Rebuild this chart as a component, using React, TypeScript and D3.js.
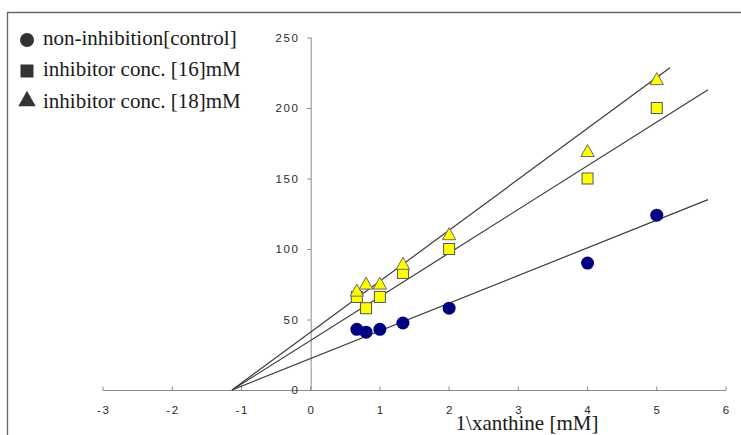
import React from "react";
import * as d3 from "d3";

const xValues = [0.667, 0.8, 1, 1.333, 2, 4, 5];
const controlValues = [43, 41, 43, 47.5, 58, 90, 124];
const inh16Values = [66, 58, 66, 83, 100, 150, 200];
const inh18Values = [70, 75, 75, 89, 110, 169, 220];

// fitted lines: x-intercept, x end, y at end
const lineNames = ["control", "inh16", "inh18"];
const lineXStart = [-1.136, -1.136, -1.136];
const lineXEnd = [5.74, 5.74, 5.19];
const lineYEnd = [135, 213, 228.6];

const xTicks = [-3, -2, -1, 0, 1, 2, 3, 4, 5, 6];
const yTicks = [0, 50, 100, 150, 200, 250];

const legendLabels = [
  "non-inhibition[control]",
  "inhibitor conc. [16]mM",
  "inhibitor conc. [18]mM",
];
const xTitle = "1\\xanthine [mM]";

const SERIF = "Liberation Serif";
const SANS = "Liberation Sans";

export default function App() {
  const W = 741, H = 435;
  const x = d3.scaleLinear().domain([-3, 6]).range([103, 726]);
  const y = d3.scaleLinear().domain([0, 250]).range([390, 37.5]);
  const axisColor = "#8a8a8a";
  const tickText = "#2a2a2a";
  const ls = 1.6;
  const line = d3.line<[number, number]>().x(d => x(d[0])).y(d => y(d[1]));
  const tri = (cx: number, cy: number, s: number) =>
    `M${cx},${cy - s * 0.62}L${cx + s * 0.58},${cy + s * 0.42}L${cx - s * 0.58},${cy + s * 0.42}Z`;

  return (
    <svg width={W} height={H} style={{ position: "absolute", left: 0, top: 0, background: "#fff" }}>
      <rect x={0} y={0} width={W} height={H} fill="#fff" />
      <line x1={7} y1={12.5} x2={W} y2={12.5} stroke="#666" strokeWidth={1.3} />
      <line x1={7.5} y1={12} x2={7.5} y2={H} stroke="#666" strokeWidth={1.3} />

      <line x1={x(-3)} y1={390.5} x2={x(6)} y2={390.5} stroke={axisColor} strokeWidth={1} />
      {xTicks.map(t => (
        <g key={"xt" + t}>
          <line x1={x(t)} x2={x(t)} y1={390.5} y2={386.5} stroke={axisColor} />
          <text x={x(t) + ls / 2} y={414} textAnchor="middle" fontFamily={SANS} fontSize={11.5} letterSpacing={ls} fill={tickText}>{t}</text>
        </g>
      ))}
      <line x1={x(0) + 0.5} y1={y(250)} x2={x(0) + 0.5} y2={390.5} stroke={axisColor} strokeWidth={1} />
      {yTicks.map(t => (
        <g key={"yt" + t}>
          <line x1={x(0) + 0.5} x2={x(0) - 3.5} y1={y(t) + 0.5} y2={y(t) + 0.5} stroke={axisColor} />
          <text x={298 + ls} y={y(t) + 4} textAnchor="end" fontFamily={SANS} fontSize={11.5} letterSpacing={ls} fill={tickText}>{t}</text>
        </g>
      ))}

      {lineNames.map((n, i) => (
        <path key={n} d={line([[lineXStart[i], 0], [lineXEnd[i], lineYEnd[i]]]) || ""} stroke="#3a3a3a" strokeWidth={1.2} fill="none" />
      ))}

      {xValues.map((xv, i) => (
        <circle key={"c" + i} cx={x(xv)} cy={y(controlValues[i])} r={6.5} fill="#000080" />
      ))}
      {xValues.map((xv, i) => (
        <rect key={"s" + i} x={x(xv) - 5.5} y={y(inh16Values[i]) - 5.5} width={11} height={11} fill="#ffff00" stroke="#555" strokeWidth={1} />
      ))}
      {xValues.map((xv, i) => (
        <path key={"t" + i} d={tri(x(xv), y(inh18Values[i]), 11.5)} fill="#ffff00" stroke="#666" strokeWidth={1} />
      ))}

      <circle cx={27} cy={40} r={7} fill="#333" />
      <rect x={20.5} y={64.5} width={13} height={13} fill="#333" />
      <path d={tri(27, 100, 15)} fill="#333" />
      {legendLabels.map((l, i) => (
        <text key={l} x={43} y={44.5 + i * 31.5} fontFamily={SERIF} fontSize={21} fill="#1a1a1a">{l}</text>
      ))}

      <text x={527} y={430} textAnchor="middle" fontFamily={SERIF} fontSize={21} fill="#1a1a1a">{xTitle}</text>
    </svg>
  );
}
